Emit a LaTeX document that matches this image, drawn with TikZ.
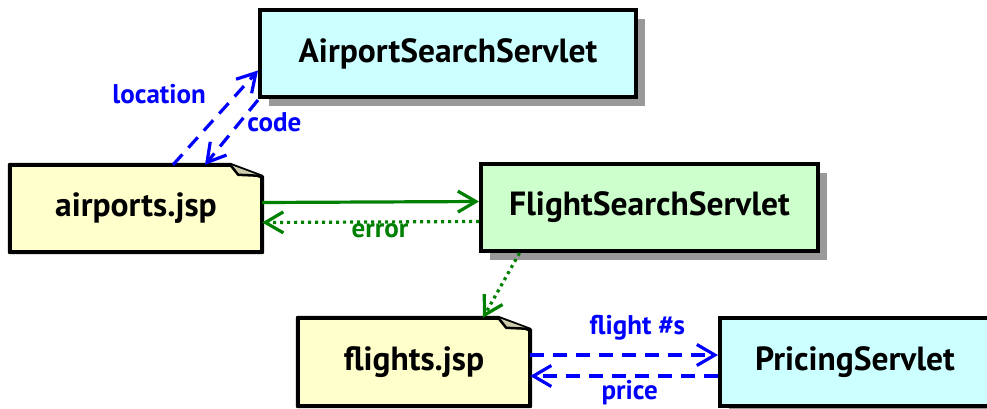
\documentclass[tikz,border=0pt]{standalone}
\usepackage{fontspec}
\setmainfont{PT Sans}
\usepackage{tikz}
\usetikzlibrary{arrows.meta,shadows}
\definecolor{srvblue}{RGB}{204,255,255}
\definecolor{srvgreen}{RGB}{204,255,204}
\definecolor{jspyellow}{RGB}{255,255,204}
\definecolor{shadowgray}{RGB}{153,153,153}
\definecolor{linkblue}{RGB}{0,0,255}
\definecolor{linkgreen}{RGB}{0,128,0}

\tikzset{
  boxfont/.style={font=\bfseries\fontsize{33.5}{33.5}\selectfont},
  labelfont/.style={font=\bfseries\fontsize{27}{27}\selectfont},
  servlet/.style={boxfont, draw, line width=4pt, inner sep=0pt,
    drop shadow={shadow xshift=9pt, shadow yshift=-9pt, fill=shadowgray, opacity=1}},
  jsp/.style={boxfont, inner sep=0pt},
  tip/.style={-{Straight Barb[length=18pt,width=21pt]}},
  bluelink/.style={tip, linkblue, line width=3.2pt, dash pattern=on 14pt off 9pt},
  greenlink/.style={tip, linkgreen, line width=3.2pt},
  greendots/.style={tip, linkgreen, line width=3.2pt, dash pattern=on 3pt off 4pt},
}

\begin{document}
\begin{tikzpicture}[x=1pt, y=-1pt]
  \useasboundingbox (0,0) rectangle (987,408);
  \clip (0,0) rectangle (987,408);

  % Servlets
  \node[servlet, fill=srvblue, minimum width=376pt, minimum height=87pt] (airportSrv) at (448,53.5) {AirportSearchServlet};
  \node[servlet, fill=srvgreen, minimum width=337pt, minimum height=87pt] (flightSrv) at (649.5,207.5) {FlightSearchServlet};
  \node[servlet, fill=srvblue, minimum width=270pt, minimum height=88pt] (pricingSrv) at (855,362) {PricingServlet};

  % JSP pages (note shape with folded corner)
  \node[jsp, minimum width=252pt, minimum height=87pt] (airportsJsp) at (136,208.5) {};
  \node[jsp, minimum width=232pt, minimum height=88pt] (flightsJsp) at (414,362) {};
  \foreach \n/\txt in {airportsJsp/airports.jsp, flightsJsp/flights.jsp} {
    \fill[shadowgray, shift={(9pt,-9pt)}] (\n.north west) -- ([xshift=-32pt]\n.north east)
      -- ([yshift=-12pt]\n.north east) -- (\n.south east) -- (\n.south west) -- cycle;
    \draw[line width=4pt, line join=round, fill=jspyellow] (\n.north west) -- ([xshift=-32pt]\n.north east)
      -- ([yshift=-12pt]\n.north east) -- (\n.south east) -- (\n.south west) -- cycle;
    \draw[line width=2.5pt, line join=round, fill=jspyellow!60!gray] ([xshift=-32pt]\n.north east)
      -- ([xshift=-24pt,yshift=-10pt]\n.north east) -- ([xshift=-2pt,yshift=-11pt]\n.north east);
    \node[boxfont] at (\n) {\txt};
  }

  % Links
  \draw[bluelink] ([xshift=37pt]airportsJsp.north) -- ([yshift=-17pt]airportSrv.west)
    node[labelfont, linkblue, pos=0.75, left=26pt] {location};
  \draw[bluelink] ([yshift=-1pt]airportSrv.south west) -- ([xshift=69pt]airportsJsp.north)
    node[labelfont, linkblue, pos=0.35, right=3pt] {code};
  \draw[greenlink] ([yshift=6pt]airportsJsp.east) -- ([yshift=6pt]flightSrv.west);
  \draw[greendots] ([yshift=-14pt]flightSrv.west) -- ([yshift=-14pt]airportsJsp.east)
    node[labelfont, linkgreen, pos=0.457, below=-3pt] {error};
  \draw[greendots] ([xshift=-130pt]flightSrv.south) -- ([xshift=69pt]flightsJsp.north);
  \draw[bluelink] ([yshift=7pt]flightsJsp.east) -- ([yshift=7pt]pricingSrv.west)
    node[labelfont, linkblue, pos=0.57, above=10pt] {flight \#s};
  \draw[bluelink] ([yshift=-14pt]pricingSrv.west) -- ([yshift=-14pt]flightsJsp.east)
    node[labelfont, linkblue, pos=0.47, below=-1pt] {price};
\end{tikzpicture}
\end{document}
